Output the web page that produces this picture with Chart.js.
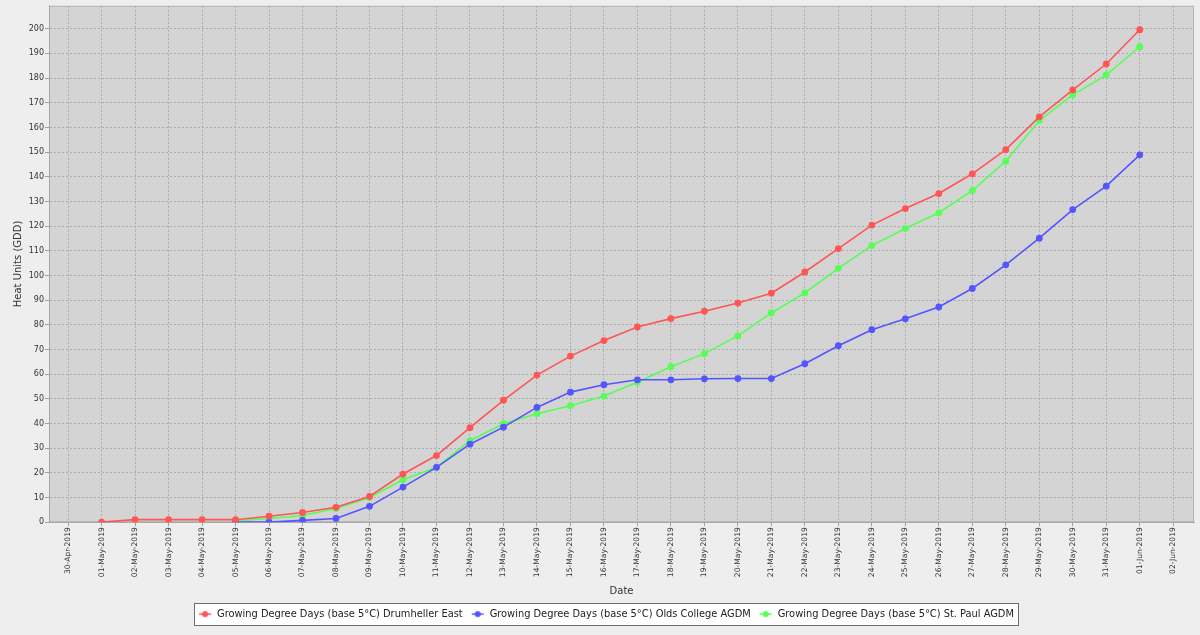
<!DOCTYPE html>
<html>
<head>
<meta charset="utf-8">
<script src="https://cdn.jsdelivr.net/npm/chart.js@4.4.1/dist/chart.umd.min.js"></script>
<style>
  html, body { margin: 0; padding: 0; background: #eeeeee; }
  #wrap { width: 1200px; height: 635px; position: relative; }
</style>
</head>
<body>
<div id="wrap"><canvas id="chart"></canvas></div>
<script>
// tick labels on the date axis, one per day
const dateLabels = [
  '30-Apr-2019', '01-May-2019', '02-May-2019', '03-May-2019', '04-May-2019', '05-May-2019',
  '06-May-2019', '07-May-2019', '08-May-2019', '09-May-2019', '10-May-2019', '11-May-2019',
  '12-May-2019', '13-May-2019', '14-May-2019', '15-May-2019', '16-May-2019', '17-May-2019',
  '18-May-2019', '19-May-2019', '20-May-2019', '21-May-2019', '22-May-2019', '23-May-2019',
  '24-May-2019', '25-May-2019', '26-May-2019', '27-May-2019', '28-May-2019', '29-May-2019',
  '30-May-2019', '31-May-2019', '01-Jun-2019', '02-Jun-2019'
];

// values from 01-May-2019 to 01-Jun-2019
const drumheller = [0, 1, 1, 1, 1, 2.4, 3.9, 6.0, 10.4, 19.5, 27.0, 38.3, 49.4, 59.6, 67.3, 73.6,
  79.1, 82.5, 85.5, 88.8, 92.8, 101.4, 110.9, 120.4, 127.1, 133.2, 141.2, 151.0, 164.3, 175.2, 185.7, 199.6];
const olds = [null, null, null, null, 0, 0, 0.7, 1.5, 6.4, 14.2, 22.2, 31.6, 38.5, 46.5, 52.7, 55.7,
  57.7, 57.7, 58.1, 58.2, 58.2, 64.2, 71.5, 78.0, 82.4, 87.2, 94.7, 104.3, 115.1, 126.7, 136.2, 148.9];
const stPaul = [null, null, null, null, 0.5, 1.5, 2.7, 5.5, 10.0, 17.2, 22.2, 33.0, 39.9, 43.9, 47.2, 51.1,
  56.7, 63.0, 68.3, 75.5, 84.8, 92.9, 102.9, 112.1, 119.0, 125.4, 134.4, 146.3, 162.8, 173.2, 181.3, 192.7];

const seriesNames = [
  'Growing Degree Days (base 5°C) Drumheller East',
  'Growing Degree Days (base 5°C) Olds College AGDM',
  'Growing Degree Days (base 5°C) St. Paul AGDM'
];
const seriesColors = ['#ff5555', '#5555ff', '#55ff55'];
const yTickValues = [0, 10, 20, 30, 40, 50, 60, 70, 80, 90, 100, 110, 120, 130, 140, 150, 160, 170, 180, 190, 200];

const FONT = 'DejaVu Sans';

// first value belongs to 01-May, which is index 1 on the date axis
function toPoints(vals) {
  return vals.map((v, i) => ({ x: i + 1, y: v }));
}

// legend marker: short line with a dot, like the original
function marker(color) {
  const c = document.createElement('canvas');
  c.width = 14; c.height = 8;
  const g = c.getContext('2d');
  g.strokeStyle = color; g.lineWidth = 1.5;
  g.beginPath(); g.moveTo(1, 4); g.lineTo(13, 4); g.stroke();
  g.fillStyle = color;
  g.beginPath(); g.arc(7, 4, 3, 0, Math.PI * 2); g.fill();
  return c;
}
const markers = seriesColors.map(marker);

const backdrop = {
  id: 'backdrop',
  afterLayout(chart) {
    // nudge the legend a little right, as in the original
    if (chart.legend) chart.legend.left += 18;
  },
  beforeDraw(chart) {
    const { ctx, chartArea: a } = chart;
    ctx.save();
    ctx.fillStyle = '#d4d4d4';
    ctx.fillRect(a.left, a.top, a.right - a.left, a.bottom - a.top);
    ctx.strokeStyle = '#b4b4b4';
    ctx.lineWidth = 1;
    ctx.strokeRect(a.left + 0.5, a.top + 0.5, a.right - a.left - 1, a.bottom - a.top - 1);

    const boxes = chart.legend && chart.legend.legendHitBoxes;
    if (boxes && boxes.length) {
      const last = boxes[boxes.length - 1];
      const l = Math.round(boxes[0].left - 4);
      const r = Math.round(last.left + last.width + 4);
      const t = Math.round(boxes[0].top - 6);
      const b = Math.round(boxes[0].top + boxes[0].height + 6);
      ctx.fillStyle = '#ffffff';
      ctx.fillRect(l, t, r - l, b - t);
      ctx.strokeStyle = '#6e6e6e';
      ctx.strokeRect(l + 0.5, t + 0.5, r - l, b - t);
    }
    ctx.restore();
  }
};

const chart = new Chart(document.getElementById('chart'), {
  type: 'line',
  data: {
    datasets: [
      { label: seriesNames[0], data: toPoints(drumheller) },
      { label: seriesNames[1], data: toPoints(olds) },
      { label: seriesNames[2], data: toPoints(stPaul) }
    ].map((d, i) => Object.assign(d, {
      borderColor: seriesColors[i],
      backgroundColor: seriesColors[i],
      borderWidth: 1.6,
      pointRadius: 3.4,
      pointBorderWidth: 0,
      tension: 0,
      spanGaps: false
    }))
  },
  options: {
    responsive: true,
    maintainAspectRatio: false,
    animation: false,
    events: [],
    layout: { padding: { top: 5, right: 6, bottom: 6, left: 0 } },
    plugins: {
      tooltip: { enabled: false },
      legend: {
        position: 'bottom',
        labels: {
          font: { family: FONT, size: 9.86 },
          color: '#222',
          usePointStyle: true,
          pointStyleWidth: 14,
          padding: 8,
          generateLabels(chart) {
            return Chart.defaults.plugins.legend.labels.generateLabels(chart).map((item, i) => {
              item.pointStyle = markers[i];
              return item;
            });
          }
        }
      }
    },
    scales: {
      x: {
        type: 'linear',
        min: -0.57,
        max: 33.62,
        afterBuildTicks(scale) {
          scale.ticks = dateLabels.map((_, i) => ({ value: i }));
        },
        afterFit(scale) { scale.height = 79; },
        ticks: {
          autoSkip: false,
          minRotation: 90,
          maxRotation: 90,
          padding: 1,
          font: { family: FONT, size: 7.6 },
          color: '#333',
          callback: (v) => dateLabels[v]
        },
        grid: { color: '#ababab', tickColor: '#a0a0a0', tickLength: 4, lineWidth: 1 },
        border: { display: true, color: '#a8a8a8', dash: [2, 2] },
        title: {
          display: true,
          text: 'Date',
          font: { family: FONT, size: 10 },
          color: '#333',
          padding: { top: 0, bottom: 4 }
        }
      },
      y: {
        min: 0,
        max: 209.3,
        afterBuildTicks(scale) {
          scale.ticks = yTickValues.map(v => ({ value: v }));
        },
        afterFit(scale) { scale.width = 49; },
        ticks: {
          padding: 1,
          font: { family: FONT, size: 8 },
          color: '#333'
        },
        grid: { color: '#ababab', tickColor: '#a0a0a0', tickLength: 4, lineWidth: 1 },
        border: { display: true, color: '#a8a8a8', dash: [2, 2] },
        title: {
          display: true,
          text: 'Heat Units (GDD)',
          font: { family: FONT, size: 10 },
          color: '#333',
          padding: { top: 12, bottom: 0 }
        }
      }
    }
  },
  plugins: [backdrop]
});
</script>
</body>
</html>
